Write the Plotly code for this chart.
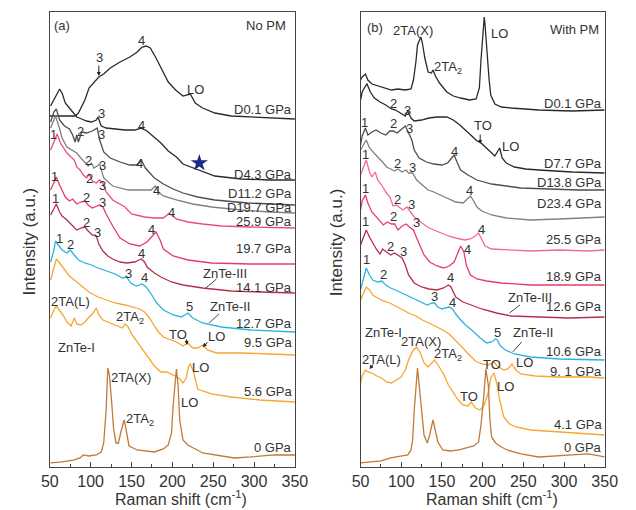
import plotly.graph_objects as go

FONT = "Liberation Sans, Arial, sans-serif"
TXT = "#333333"

# ======================= Panel (a): No PM =======================
a_d01_x = [50,65,81,85,93,98,104,110,116,124,136,148,157,163,168,173,180,187,195,204,213,222,228,237,252,272,296,320,350]
a_d01_y = [351,351,351,354,367,379,385,390,393,399,405,410,415,420,421,419,409,397,385,377,371,373,364,359,354,351,350,349,348]

a_d43_x = [51,57,62,65,69,74,80,83,89,95,101,107,109,113,119,130,142,154,162,169,178,186,195,205,213,233,252,284,319,350]
a_d43_y = [361,371,378,374,364,359,353,350,348,346,345,347,350,341,339,338,337,337,339,336,330,324,316,310,303,297,291,288,287,287]

a_d112_x = [51,55,58,62,68,74,78,81,83,85,89,95,102,108,111,116,124,136,148,157,162,167,178,189,201,213,231,252,292,350]
a_d112_y = [345,355,358,347,341,338,332,325,332,325,335,334,336,339,327,315,309,305,302,302,307,299,289,283,278,274,270,267,264,262]

a_d197_x = [51,55,57,61,65,71,77,83,88,93,97,101,104,108,111,116,127,146,166,174,179,183,189,205,225,248,284,319,350]
a_d197_y = [339,347,351,341,329,320,317,314,309,304,301,304,299,301,303,289,281,277,277,277,281,275,271,267,263,260,257,255,254]

a_259_x = [51,56,59,63,67,71,76,80,83,87,91,95,98,102,107,111,115,119,127,134,142,150,166,178,189,195,199,205,219,237,260,296,350]
a_259_y = [317,327,333,324,319,314,310,307,300,297,292,289,293,286,284,287,284,275,267,264,260,253,250,249,249,253,252,248,245,243,241,240,239]

a_197_x = [51,55,58,62,65,69,74,78,83,88,93,97,102,107,111,115,119,127,136,148,160,169,175,180,185,189,201,219,248,296,350]
a_197_y = [277,285,290,282,277,270,266,268,263,265,266,262,259,261,262,260,253,241,229,223,221,225,231,235,227,218,211,207,204,203,203]

a_141_x = [51,55,58,62,65,71,77,83,88,93,97,102,107,110,115,121,127,136,144,154,159,162,166,169,178,186,199,213,237,272,307,350]
a_141_y = [252,259,263,255,251,247,242,237,239,240,236,232,231,223,216,211,208,205,204,205,207,208,205,200,194,190,185,182,179,176,175,174]

a_127_x = [51,55,57,61,65,71,75,80,85,93,101,109,119,130,139,144,149,156,163,168,174,181,189,201,211,219,225,237,260,296,350]
a_127_y = [205,217,226,222,217,214,217,212,207,204,202,199,196,193,189,190,184,181,183,180,173,164,157,152,150,154,149,144,140,137,135]

a_95_x = [51,55,58,62,68,74,80,89,98,109,119,130,142,150,160,166,172,178,183,189,198,205,213,219,225,231,237,243,254,284,319,350]
a_95_y = [187,199,208,204,197,191,187,181,175,170,167,164,162,160,158,155,149,141,135,130,127,125,121,124,119,119,122,117,114,114,113,112]

a_56_x = [51,55,58,62,67,71,76,80,83,88,93,97,102,107,110,115,121,127,133,139,142,146,150,157,166,172,178,186,193,201,208,213,217,220,222,226,231,237,248,272,307,350]
a_56_y = [149,157,161,157,151,145,141,149,143,142,145,149,153,159,152,147,145,143,141,139,143,140,133,125,115,107,101,95,95,92,89,84,89,101,103,95,78,76,73,70,67,65]

a_0_x = [51,65,80,87,91,98,107,113,116,119,121,123,126,128,131,134,137,141,143,147,157,178,189,195,199,201,204,205,207,209,213,219,237,276,296,325,350]
a_0_y = [4,5,7,9,12,11,12,15,24,57,99,92,62,39,24,24,35,47,39,21,17,15,18,22,34,62,89,98,82,47,27,22,14,9,10,12,12]

# ======================= Panel (b): With PM =======================
b_d01_x = [50,52,56,59,64,73,81,88,96,105,112,115,118,120,124,126,129,133,137,139,142,147,156,164,173,184,192,196,198,201,202,203,205,208,210,215,223,235,269,310,350]
b_d01_y = [387,390,393,387,383,381,379,377,378,377,378,387,405,422,430,424,409,395,394,397,391,384,375,371,369,367,368,379,407,442,450,442,417,387,372,363,360,359,357,356,357]

b_d77_x = [50,52,56,58,62,67,74,81,88,93,99,105,108,112,116,125,134,144,156,164,172,179,188,193,197,202,209,215,218,221,224,229,239,253,269,310,350]
b_d77_y = [367,375,381,383,375,369,365,362,358,357,354,351,356,349,346,347,349,350,350,347,342,337,330,326,325,321,316,311,315,319,309,304,300,298,297,295,294]

b_d138_x = [50,52,56,59,64,69,75,81,86,90,95,100,105,108,113,116,122,131,140,150,157,161,165,169,173,182,193,211,247,282,318,350]
b_d138_y = [322,331,339,332,335,337,334,332,336,336,334,338,341,336,327,317,309,305,303,302,304,308,312,304,297,292,287,283,279,278,277,277]

b_d234_x = [50,54,57,61,65,71,77,82,87,92,96,101,106,109,114,119,126,133,140,148,158,167,176,180,185,189,193,199,211,229,259,294,330,350]
b_d234_y = [317,323,327,319,315,310,305,300,298,296,298,295,297,294,294,287,282,277,275,272,268,265,264,267,271,266,260,256,252,249,247,248,249,250]

b_255_x = [50,54,57,61,64,68,71,76,81,86,90,94,97,102,107,112,116,124,132,140,148,158,167,178,185,191,195,198,203,211,229,259,294,330,350]
b_255_y = [292,300,307,295,290,295,287,282,275,270,261,262,260,257,260,255,250,245,240,237,234,231,229,227,228,231,234,229,221,218,217,216,217,216,217]

b_189_x = [50,52,56,59,64,69,74,78,83,88,92,96,101,106,110,115,119,124,128,135,144,152,159,165,170,173,177,180,185,193,205,223,259,306,350]
b_189_y = [257,266,272,264,255,250,245,242,245,243,243,237,241,243,240,237,229,219,212,205,201,199,201,205,215,221,215,202,192,188,186,184,182,182,182]

b_126_x = [50,54,57,61,65,70,74,77,82,87,92,96,101,105,109,116,125,134,144,152,158,161,167,176,188,199,217,235,271,306,350]
b_126_y = [222,231,237,230,224,217,213,218,215,212,214,212,209,202,192,184,180,178,177,179,182,180,170,165,161,158,154,151,150,149,150]

b_106_x = [50,54,57,61,65,71,76,81,87,93,101,109,116,125,132,138,141,145,150,154,159,163,167,173,179,188,197,205,211,216,218,222,228,239,259,294,330,350]
b_106_y = [177,191,199,192,187,185,186,182,179,177,174,171,168,165,162,164,164,160,158,159,160,158,153,147,142,136,129,124,125,128,127,121,117,113,110,108,107,107]

b_91_x = [50,54,57,61,65,71,78,86,93,101,109,118,126,134,142,151,159,167,176,183,191,199,207,214,218,226,231,236,241,247,265,294,330,350]
b_91_y = [167,175,180,177,172,169,166,164,161,157,154,151,147,144,141,137,133,126,119,112,106,103,102,105,101,97,98,103,97,93,91,90,90,89]

b_41_x = [50,52,56,59,64,70,76,82,88,94,100,105,109,114,119,124,128,133,138,141,146,152,158,164,170,176,182,186,191,197,202,207,210,214,217,221,226,233,241,259,294,330,350]
b_41_y = [84,91,97,95,94,91,89,85,84,87,90,97,107,116,120,113,104,100,105,107,101,93,82,74,67,62,61,65,59,57,62,75,89,94,85,67,50,43,40,37,35,33,32]

b_0_x = [50,63,75,87,99,108,112,114,116,119,120,122,125,128,132,135,139,141,145,151,160,171,180,189,195,198,201,203,204,207,209,211,216,223,230,247,269,310,330,350]
b_0_y = [4,5,6,9,11,12,17,27,57,92,99,82,57,32,24,32,47,39,25,17,16,17,19,21,25,42,67,92,98,82,47,30,24,20,17,13,10,12,13,10]

# colours
C_BLACK = "#2a2a2a"; C_DGRAY = "#4d4d4d"; C_GRAY = "#808080"
C_PINK = "#ee4a7c"; C_PINK2 = "#e83c68"; C_LPINK = "#f26a96"; C_CRIMSON = "#b3304d"
C_CYAN = "#2ab4dc"; C_ORANGE = "#f7a630"; C_BROWN = "#c07a38"

series_a = [
    (a_d01_x, a_d01_y, C_BLACK), (a_d43_x, a_d43_y, C_BLACK), (a_d112_x, a_d112_y, C_DGRAY),
    (a_d197_x, a_d197_y, C_GRAY), (a_259_x, a_259_y, C_PINK), (a_197_x, a_197_y, C_PINK2),
    (a_141_x, a_141_y, C_CRIMSON), (a_127_x, a_127_y, C_CYAN), (a_95_x, a_95_y, C_ORANGE),
    (a_56_x, a_56_y, C_ORANGE), (a_0_x, a_0_y, C_BROWN),
]
series_b = [
    (b_d01_x, b_d01_y, C_BLACK), (b_d77_x, b_d77_y, C_BLACK), (b_d138_x, b_d138_y, C_DGRAY),
    (b_d234_x, b_d234_y, C_GRAY), (b_255_x, b_255_y, C_LPINK), (b_189_x, b_189_y, C_PINK2),
    (b_126_x, b_126_y, C_CRIMSON), (b_106_x, b_106_y, C_CYAN), (b_91_x, b_91_y, C_ORANGE),
    (b_41_x, b_41_y, C_ORANGE), (b_0_x, b_0_y, C_BROWN),
]

# pressure labels (right side)
a_gpa_text = ["D0.1 GPa","D4.3 GPa","D11.2 GPa","D19.7 GPa","25.9 GPa","19.7 GPa","14.1 GPa","12.7 GPa","9.5 GPa","5.6 GPa","0 GPa"]
a_gpa_y = [358,293,274,259,245,218,179,143,124,75,19]
b_gpa_text = ["D0.1 GPa","D7.7 GPa","D13.8 GPa","D23.4 GPa","25.5 GPa","18.9 GPa","12.6 GPa","10.6 GPa","9. 1 GPa","4.1 GPa","0 GPa"]
b_gpa_y = [364,304,285,263,227,190,160,115,95,42,19]

# peak labels
a_pk_text = ["3","4","LO","3","4","2","3","4","2","3","4","1","2","3","4","1","2","3","4","1","2","3","4",
             "1","2","3","4","5","2TA(L)","2TA<sub>2</sub>","ZnTe-I","TO","LO","ZnTe-III","ZnTe-II","LO",
             "2TA(X)","2TA<sub>2</sub>","LO"]
a_pk_x = [111,162,228,113,162,87,113,160,97,114,181,54,98,115,199,56,95,115,174,57,95,108,162,
          62,75,146,166,221,75,148,83,207,254,264,270,235,150,160,221]
a_pk_y = [410,427,378,354,342,336,333,304,307,302,277,333,289,282,254,291,269,264,237,268,244,234,213,
          228,222,193,189,160,165,149,119,132,130,193,160,99,89,47,64]

b_pk_text = ["2TA(X)","2TA<sub>2</sub>","LO","2","3","TO","LO","1","2","3","4","2","3","4",
             "1","2","3","4","1","2","3","4","1","2","3","4","1","2","3","4","5",
             "ZnTe-III","ZnTe-II","ZnTe-I","TO","LO","2TA(L)","2TA(X)","2TA<sub>2</sub>","TO","LO"]
b_pk_x = [114,157,221,90,108,201,234,55,90,110,166,96,114,184,
          56,96,113,199,56,90,119,182,56,87,103,160,57,78,141,163,218,
          258,262,78,212,252,76,124,157,183,228]
b_pk_y = [437,400,434,364,357,342,321,345,344,339,316,304,300,277,
          313,267,262,237,279,250,244,217,245,220,215,189,207,192,170,164,134,
          169,134,134,102,104,107,125,112,70,80]

# arrows (start -> tip) and leader lines
a_arrow_from = [(110,403),(217,129),(245,126)]
a_arrow_to = [(110,391),(218,122),(237,120)]
b_arrow_from = [(197,334),(67,104)]
b_arrow_to = [(197,323),(61,98)]
a_leader = [((241,179),(254,188)),((245,144),(257,153))]
b_leader = [((233,154),(246,162)),((237,115),(248,125))]
star_a = ([233],[304])

fig = go.Figure()
for xs, ys, c in series_a:
    fig.add_trace(go.Scatter(x=xs, y=ys, mode="lines", line=dict(color=c, width=1.3),
                             xaxis="x", yaxis="y", hoverinfo="skip"))
for xs, ys, c in series_b:
    fig.add_trace(go.Scatter(x=xs, y=ys, mode="lines", line=dict(color=c, width=1.3),
                             xaxis="x2", yaxis="y2", hoverinfo="skip"))
fig.add_trace(go.Scatter(x=star_a[0], y=star_a[1], mode="markers",
                         marker=dict(symbol="star", size=13, color="#1f2a88"),
                         xaxis="x", yaxis="y", hoverinfo="skip"))

ann = []
def lab(text, x, y, xr, yr, size=13, xanchor="center"):
    ann.append(dict(text=text, x=x, y=y, xref=xr, yref=yr, showarrow=False,
                    xanchor=xanchor, yanchor="middle",
                    font=dict(family=FONT, size=size, color=TXT)))

for t, y in zip(a_gpa_text, a_gpa_y):
    lab(t, 349, y, "x", "y", 13, "right")
for t, y in zip(b_gpa_text, b_gpa_y):
    lab(t, 349, y, "x2", "y2", 13, "right")
for t, x, y in zip(a_pk_text, a_pk_x, a_pk_y):
    lab(t, x, y, "x", "y")
for t, x, y in zip(b_pk_text, b_pk_x, b_pk_y):
    lab(t, x, y, "x2", "y2")

lab("(a)", 53, 442, "x", "y", 13, "left")
lab("No PM", 341, 442, "x", "y", 13, "right")
lab("(b)", 56, 440, "x2", "y2", 13, "left")
lab("With PM", 346, 438, "x2", "y2", 13, "right")

for (fx, fy), (tx, ty) in zip(a_arrow_from, a_arrow_to):
    ann.append(dict(x=tx, y=ty, ax=fx, ay=fy, xref="x", yref="y", axref="x", ayref="y",
                    text="", showarrow=True, arrowhead=2, arrowsize=0.8, arrowwidth=1, arrowcolor="#222"))
for (fx, fy), (tx, ty) in zip(b_arrow_from, b_arrow_to):
    ann.append(dict(x=tx, y=ty, ax=fx, ay=fy, xref="x2", yref="y2", axref="x2", ayref="y2",
                    text="", showarrow=True, arrowhead=2, arrowsize=0.8, arrowwidth=1, arrowcolor="#222"))

# axis titles (page body has an 8 px margin, figure is 628x502)
for xc in (0.2707, 0.7834):
    ann.append(dict(text="Raman shift (cm<sup>-1</sup>)", x=xc, y=0.0, xref="paper", yref="paper",
                    showarrow=False, xanchor="center", yanchor="bottom",
                    font=dict(family=FONT, size=16, color=TXT)))
for xc in (0.0207, 0.5287):
    ann.append(dict(text="Intensity (a.u.)", x=xc, y=0.534, xref="paper", yref="paper",
                    showarrow=False, textangle=-90, xanchor="center", yanchor="middle",
                    font=dict(family=FONT, size=17, color=TXT)))

shapes = []
for (p0, p1) in a_leader:
    shapes.append(dict(type="line", x0=p0[0], y0=p0[1], x1=p1[0], y1=p1[1], xref="x", yref="y",
                       line=dict(color="#444", width=1)))
for (p0, p1) in b_leader:
    shapes.append(dict(type="line", x0=p0[0], y0=p0[1], x1=p1[0], y1=p1[1], xref="x2", yref="y2",
                       line=dict(color="#444", width=1)))

xax = dict(range=[50, 350], tickmode="linear", tick0=50, dtick=50, ticks="inside", ticklen=5,
           tickcolor="#444", minor=dict(dtick=25, ticklen=3, ticks="inside", tickcolor="#444"),
           showline=True, linecolor="#444", linewidth=1.2, mirror=True, showgrid=False,
           zeroline=False, tickfont=dict(family=FONT, size=16, color=TXT))
yax = dict(range=[0, 455], showticklabels=False, ticks="", showline=True, linecolor="#444",
           linewidth=1.2, mirror=True, showgrid=False, zeroline=False, domain=[0.0857, 0.9920])

fig.update_layout(
    width=628, height=502, margin=dict(l=0, r=0, t=0, b=0),
    paper_bgcolor="white", plot_bgcolor="white", showlegend=False,
    xaxis=dict(xax, domain=[0.0541, 0.4586], anchor="y"),
    yaxis=dict(yax, anchor="x"),
    xaxis2=dict(xax, domain=[0.5669, 0.9698], anchor="y2"),
    yaxis2=dict(yax, anchor="x2"),
    annotations=ann, shapes=shapes,
)
fig.write_html("out.html")
